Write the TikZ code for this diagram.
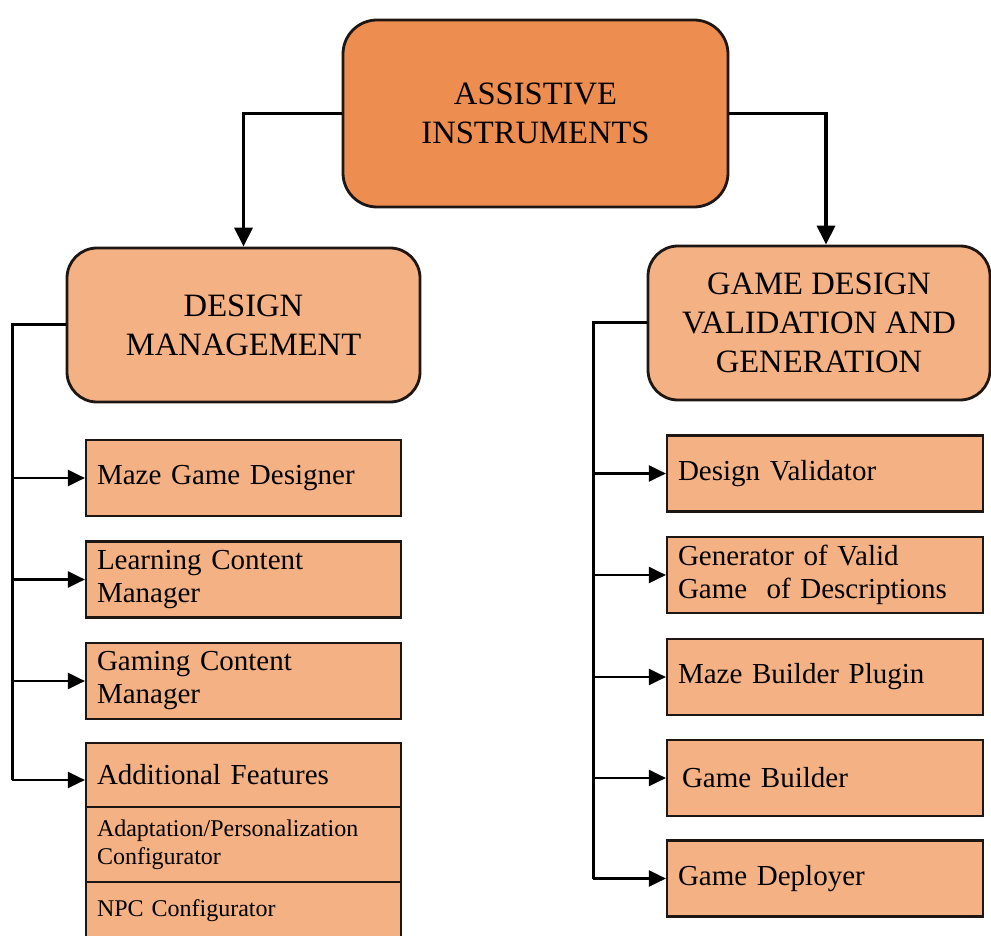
\documentclass[tikz,border=0pt]{standalone}
\usepackage{fontspec}
\setmainfont{Liberation Serif}
\usetikzlibrary{arrows.meta}
\definecolor{topfill}{HTML}{ED8E50}
\definecolor{boxfill}{HTML}{F4B183}
\definecolor{edge}{HTML}{1E1612}
\begin{document}
\begin{tikzpicture}[x=0.5pt,y=-0.5pt,
  headbox/.style={draw=edge, line width=1.4pt, fill=boxfill, rounded corners=15pt,
    align=center, inner sep=0pt, font=\fontsize{16.3}{19.5}\selectfont},
  leafbox/.style={draw=edge, line width=1.1pt, fill=boxfill, text width=146.5pt,
    inner xsep=5.5pt, inner ysep=0pt, minimum height=38pt, align=left,
    font=\fontsize{14.5}{16.5}\selectfont},
  trunk/.style={draw=black, line width=1.7pt, -{Triangle[length=9.5pt,width=9pt]}},
  rail/.style={draw=black, line width=1.5pt},
  branch/.style={draw=black, line width=1.2pt, -{Triangle[length=8.5pt,width=8pt]}}]

\useasboundingbox (0,0) rectangle (991,936);
\clip (0,0) rectangle (991,936);

% root and the two main groups
\node[headbox, fill=topfill, rounded corners=17pt, minimum width=192.5pt, minimum height=93.5pt]
  (top) at (535.5,113.5) {ASSISTIVE\\INSTRUMENTS};
\node[headbox, minimum width=176.5pt, minimum height=77pt]
  (dm) at (243.5,325) {DESIGN\\MANAGEMENT};
\node[headbox, minimum width=171pt, minimum height=77pt]
  (gdvg) at (819,323) {GAME DESIGN\\VALIDATION AND\\GENERATION};

% design management tools
\node[leafbox] (maze) at (243.5,478) {Maze Game Designer};
\node[leafbox] (learn) at (243.5,579.5) {Learning Content\\Manager};
\node[leafbox] (gaming) at (243.5,681) {Gaming Content\\Manager};
\node[leafbox, minimum height=32pt] (add) at (243.5,775) {Additional Features};
\node[leafbox, minimum height=37.5pt, font=\fontsize{12}{14}\selectfont]
  (adapt) at (243.5,844.5) {Adaptation/Personalization\\Configurator};
\node[leafbox, minimum height=29pt, font=\fontsize{12}{14}\selectfont]
  (npc) at (243.5,911) {NPC Configurator};

% validation and generation tools
\node[leafbox, text width=147pt] (valid) at (825,473.5) {Design Validator};
\node[leafbox, text width=147pt] (gen) at (825,575) {Generator of Valid\\Game~ of Descriptions};
\node[leafbox, text width=147pt] (mbp) at (825,677) {Maze Builder Plugin};
\node[leafbox, text width=147pt] (gb) at (825,778) {\hspace{2pt}Game Builder};
\node[leafbox, text width=147pt] (gd) at (825,878.5) {Game Deployer};

% root connectors
\draw[trunk] (top.west) -| (dm.north);
\draw[trunk] (top.east) -| ([xshift=3.5pt]gdvg.north);

% left rail
\coordinate (lrail) at (12,780);
\draw[rail] (dm.west) -| (lrail);
\draw[branch] (lrail |- maze.west) -- (maze.west);
\draw[branch] (lrail |- learn.west) -- (learn.west);
\draw[branch] (lrail |- gaming.west) -- (gaming.west);
\draw[branch] (lrail) -- (lrail -| add.west);

% right rail
\coordinate (rrail) at (593,878.5);
\draw[rail] (gdvg.west) -| (rrail);
\draw[branch] (rrail |- valid.west) -- (valid.west);
\draw[branch] (rrail |- gen.west) -- (gen.west);
\draw[branch] (rrail |- mbp.west) -- (mbp.west);
\draw[branch] (rrail |- gb.west) -- (gb.west);
\draw[branch] (rrail) -- (gd.west);
\end{tikzpicture}
\end{document}
